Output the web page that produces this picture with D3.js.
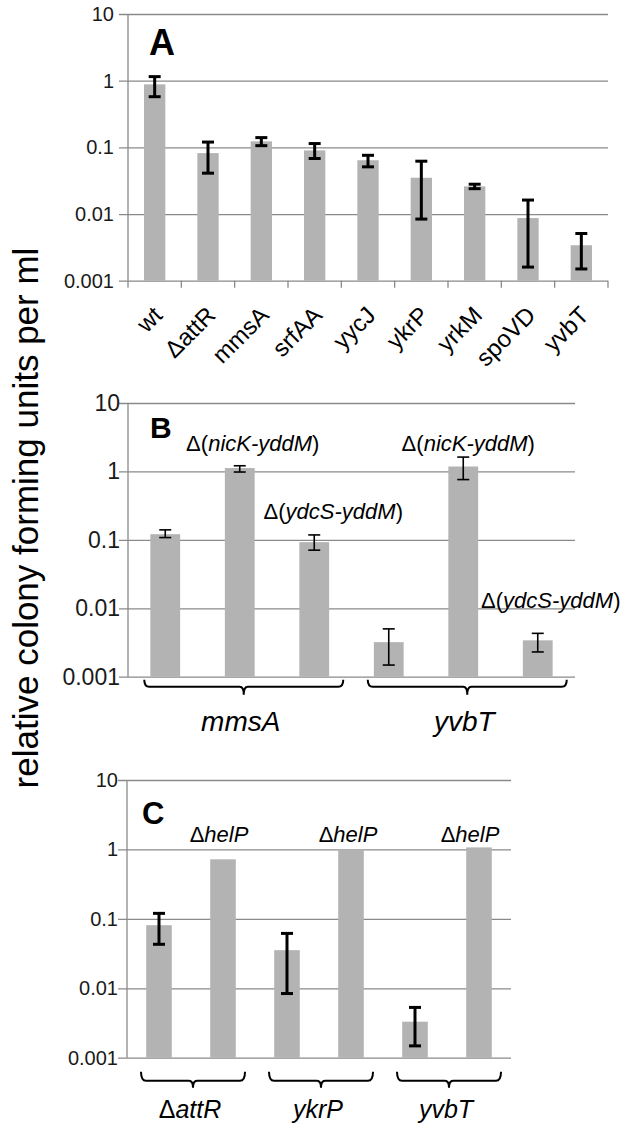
<!DOCTYPE html>
<html><head><meta charset="utf-8">
<script src="https://cdn.jsdelivr.net/npm/d3@7"></script>
<style>
html,body{margin:0;padding:0;background:#fff;}
svg{display:block;font-family:"Liberation Sans",Arial,sans-serif;}
</style></head>
<body>
<svg id="c" width="629" height="1132"></svg>
<script>
// ---------- DATA ----------
const yTicks = [0.001, 0.01, 0.1, 1, 10];
const yTickLabels = ["0.001", "0.01", "0.1", "1", "10"];

// Panel A
const catsA = ["wt", "\u0394attR", "mmsA", "srfAA", "yycJ", "ykrP", "yrkM", "spoVD", "yvbT"];
const valsA = [0.88, 0.082, 0.123, 0.09, 0.064, 0.035, 0.026, 0.0087, 0.0034];
const errLoA = [0.575, 0.041, 0.106, 0.068, 0.051, 0.0084, 0.024, 0.0016, 0.0015];
const errHiA = [1.15, 0.12, 0.14, 0.114, 0.076, 0.062, 0.028, 0.0162, 0.0051];

// Panel B
const barsB = ["mmsA", "mmsA \u0394(nicK-yddM)", "mmsA \u0394(ydcS-yddM)", "yvbT", "yvbT \u0394(nicK-yddM)", "yvbT \u0394(ydcS-yddM)"];
const valsB = [0.121, 1.12, 0.0925, 0.0032, 1.18, 0.0034];
const errLoB = [0.108, 0.98, 0.0707, 0.00148, 0.76, 0.0023];
const errHiB = [0.14, 1.21, 0.118, 0.005, 1.62, 0.0043];
const annotB = ["", "nicK-yddM", "ydcS-yddM", "", "nicK-yddM", "ydcS-yddM"];
const annotLevelB = [null, 2, 0.2, null, 2, 0.01];
const groupsB = ["mmsA", "yvbT"];

// Panel C
const barsC = ["\u0394attR", "\u0394attR \u0394helP", "ykrP", "ykrP \u0394helP", "yvbT", "yvbT \u0394helP"];
const valsC = [0.081, 0.72, 0.0354, 1.0, 0.0033, 1.07];
const errLoC = [0.043, null, 0.0084, null, 0.00148, null];
const errHiC = [0.12, null, 0.0617, null, 0.0053, null];
const annotC = ["", "helP", "", "helP", "", "helP"];
const annotLevelC = [null, 1.3, null, 1.3, null, 1.3];
const groupsC = [["\u0394", "attR"], ["", "ykrP"], ["", "yvbT"]];

// ---------- DRAW ----------
const svg = d3.select("#c");
const FONT = '"Liberation Sans",Arial,sans-serif';
const BAR = "#b3b3b3", GRID = "#8a8a8a";

function panel(o) {
  const g = svg.append("g");
  const x = d3.scaleBand().domain(o.cats).range([o.x0, o.x1]).paddingInner(0.6).paddingOuter(0.3);
  const y = d3.scaleLog().domain([0.001, 10]).range([o.yb, o.yt]);
  const ax = d3.axisLeft(y).tickValues(yTicks).tickFormat((d, i) => yTickLabels[i])
    .tickSize(-(o.x1 - o.x0)).tickPadding(o.pad);
  const ga = g.append("g").attr("transform", `translate(${o.x0},0)`).call(ax);
  ga.select(".domain").remove();
  ga.selectAll(".tick line").attr("stroke", GRID).attr("stroke-width", 1.3).attr("x1", -9);
  ga.selectAll(".tick text").attr("font-family", FONT).attr("font-size", o.tickFont).attr("fill", "#1a1a1a");
  g.append("line").attr("x1", o.x0).attr("x2", o.x0).attr("y1", y(10)).attr("y2", y(0.001))
    .attr("stroke", GRID).attr("stroke-width", 1.3);
  g.selectAll("rect.bar").data(o.vals).join("rect").attr("class", "bar")
    .attr("x", (d, i) => x(o.cats[i])).attr("width", x.bandwidth())
    .attr("y", d => y(d)).attr("height", d => y(0.001) - y(d)).attr("fill", BAR);
  const cw = 6;
  o.vals.forEach((d, i) => {
    if (o.lo[i] == null) return;
    const cx = x(o.cats[i]) + x.bandwidth() / 2;
    const e = g.append("g").attr("stroke", "#000").attr("stroke-width", o.ew);
    e.append("line").attr("x1", cx).attr("x2", cx).attr("y1", y(o.lo[i])).attr("y2", y(o.hi[i]));
    e.append("line").attr("x1", cx - cw).attr("x2", cx + cw).attr("y1", y(o.lo[i])).attr("y2", y(o.lo[i]));
    e.append("line").attr("x1", cx - cw).attr("x2", cx + cw).attr("y1", y(o.hi[i])).attr("y2", y(o.hi[i]));
  });
  return {g, x, y};
}

// Panel A
const A = panel({cats: catsA, vals: valsA, lo: errLoA, hi: errHiA, x0: 128, x1: 608, yb: 280.7, yt: 14,
  pad: 14, tickFont: 20, ew: 3});
const stepA = A.x.step();
d3.range(catsA.length + 1).forEach(i => {
  const xx = 128 + i * stepA;
  A.g.append("line").attr("x1", xx).attr("x2", xx).attr("y1", A.y(0.001)).attr("y2", A.y(0.001) + 7)
    .attr("stroke", GRID).attr("stroke-width", 1.3);
});
catsA.forEach((c, i) => {
  const cx = A.x(c) + A.x.bandwidth() / 2;
  A.g.append("text").attr("transform", `translate(${cx + 9},${A.y(0.001) + 36}) rotate(-45)`)
    .attr("text-anchor", "end").attr("font-family", FONT).attr("font-size", 24).attr("fill", "#000").text(c);
});
svg.append("text").attr("x", 149).attr("y", 55).attr("font-family", FONT).attr("font-weight", "bold")
  .attr("font-size", 36).text("A");

// Panel B
const B = panel({cats: barsB, vals: valsB, lo: errLoB, hi: errHiB, x0: 128, x1: 575, yb: 676.7, yt: 403,
  pad: 8, tickFont: 23, ew: 1.6});
const annDxB = [0, 13, 19, 0, 5, 13];
annotB.forEach((t, i) => {
  if (!t) return;
  const cx = B.x(barsB[i]) + B.x.bandwidth() / 2 + annDxB[i];
  const tx = B.g.append("text").attr("x", cx).attr("y", B.y(annotLevelB[i])).attr("text-anchor", "middle")
    .attr("font-family", FONT).attr("font-size", 22);
  tx.append("tspan").text("\u0394(");
  tx.append("tspan").attr("font-style", "italic").text(t);
  tx.append("tspan").text(")");
});
svg.append("text").attr("x", 150).attr("y", 438).attr("font-family", FONT).attr("font-weight", "bold")
  .attr("font-size", 30).text("B");

function brace(g, x0, x1, y0, h, t) {
  const xm = (x0 + x1) / 2, y1 = y0 + h, y2 = y1 + t;
  g.append("path").attr("fill", "none").attr("stroke", "#000").attr("stroke-width", 2)
    .attr("d", `M${x0},${y0} Q${x0},${y1} ${x0 + 5},${y1} L${xm - 4},${y1} Q${xm},${y1} ${xm},${y2}` +
      ` M${xm},${y2} Q${xm},${y1} ${xm + 4},${y1} L${x1 - 5},${y1} Q${x1},${y1} ${x1},${y0}`);
  return xm;
}
groupsB.forEach((gname, k) => {
  const c0 = B.x(barsB[k * 3]) + B.x.bandwidth() / 2;
  const c1 = B.x(barsB[k * 3 + 2]) + B.x.bandwidth() / 2;
  const xm = brace(B.g, c0 - 21, c1 + 29, B.y(0.001) + 3, 7, 8);
  B.g.append("text").attr("x", xm - 3).attr("y", 731).attr("text-anchor", "middle")
    .attr("font-family", FONT).attr("font-style", "italic").attr("font-size", 28).text(gname);
});

// Panel C
const C = panel({cats: barsC, vals: valsC, lo: errLoC, hi: errHiC, x0: 127, x1: 511, yb: 1057.7, yt: 780,
  pad: 9, tickFont: 20, ew: 3});
const annDxC = [0, -4, 0, -3, 0, -9];
annotC.forEach((t, i) => {
  if (!t) return;
  const cx = C.x(barsC[i]) + C.x.bandwidth() / 2 + annDxC[i];
  const tx = C.g.append("text").attr("x", cx).attr("y", C.y(annotLevelC[i])).attr("text-anchor", "middle")
    .attr("font-family", FONT).attr("font-size", 22);
  tx.append("tspan").text("\u0394");
  tx.append("tspan").attr("font-style", "italic").text(t);
});
svg.append("text").attr("x", 142).attr("y", 824).attr("font-family", FONT).attr("font-weight", "bold")
  .attr("font-size", 31).text("C");
groupsC.forEach((gname, k) => {
  const c0 = C.x(barsC[k * 2]) + C.x.bandwidth() / 2;
  const c1 = C.x(barsC[k * 2 + 1]) + C.x.bandwidth() / 2;
  const xm = brace(C.g, c0 - 18, c1 + 22, C.y(0.001) + 14, 9, 7);
  const tx = C.g.append("text").attr("x", xm - 3).attr("y", 1118).attr("text-anchor", "middle")
    .attr("font-family", FONT).attr("font-size", 25);
  if (gname[0]) tx.append("tspan").text(gname[0]);
  tx.append("tspan").attr("font-style", "italic").text(gname[1]);
});

// Y axis title
svg.append("text").attr("transform", "translate(38,518) rotate(-90)").attr("text-anchor", "middle")
  .attr("font-family", FONT).attr("font-size", 35).attr("fill", "#000")
  .text("relative colony forming units per ml");
</script>
</body></html>
